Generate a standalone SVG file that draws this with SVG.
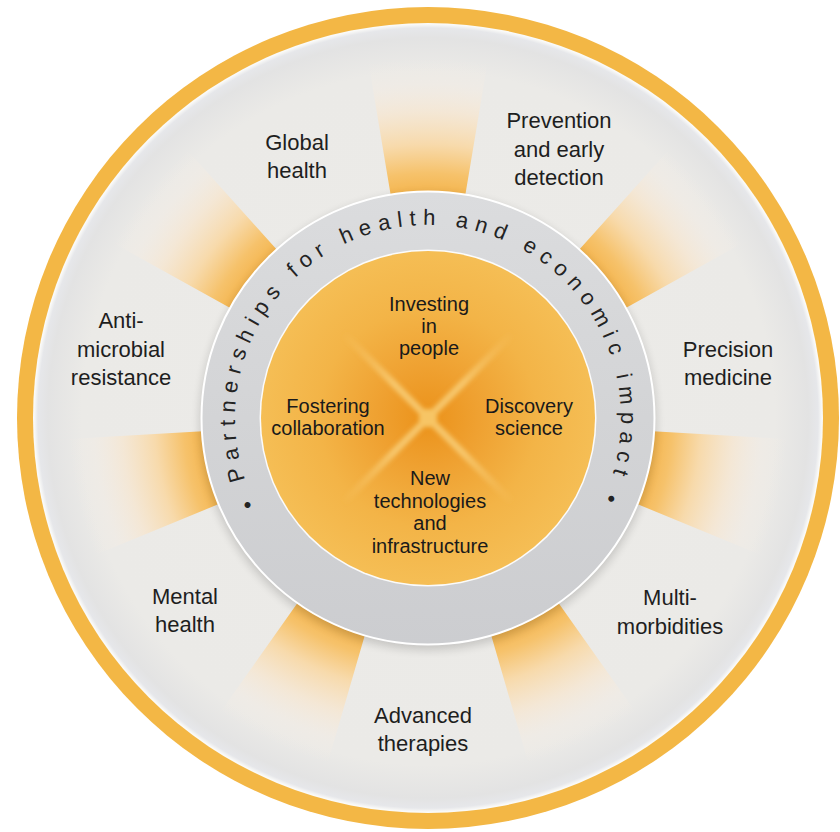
<svg xmlns="http://www.w3.org/2000/svg" width="840" height="832" viewBox="0 0 840 832">
  <defs>
    <style>
      .lbl { font-family: "Liberation Sans", Arial, Helvetica, sans-serif; font-size: 22px; fill: #1e1e1e; text-anchor: middle; }
      .inner { font-family: "Liberation Sans", Arial, Helvetica, sans-serif; font-size: 20px; fill: #1a1a1a; text-anchor: middle; }
      .ring { font-family: "Liberation Sans", Arial, Helvetica, sans-serif; font-size: 22px; fill: #232323; letter-spacing: 6.9px; }
    </style>
    <radialGradient id="bg" cx="428" cy="418" r="394" gradientUnits="userSpaceOnUse">
      <stop offset="0" stop-color="#ECEBE8"/>
      <stop offset="0.88" stop-color="#EBEAE7"/>
      <stop offset="0.965" stop-color="#E3E3E3"/>
      <stop offset="0.99" stop-color="#E6E7EA"/>
      <stop offset="1" stop-color="#FAFAF8"/>
    </radialGradient>
    <radialGradient id="wedge" cx="428" cy="418" r="360" gradientUnits="userSpaceOnUse">
      <stop offset="0.62" stop-color="#F4B44C"/>
      <stop offset="0.68" stop-color="#F6C26B"/>
      <stop offset="0.76" stop-color="#F8D9A8" stop-opacity="0.95"/>
      <stop offset="0.85" stop-color="#F7E6CF" stop-opacity="0.75"/>
      <stop offset="0.93" stop-color="#F6EDE3" stop-opacity="0.35"/>
      <stop offset="1" stop-color="#F6EEE4" stop-opacity="0"/>
    </radialGradient>
    <linearGradient id="grayRing" x1="0" y1="0" x2="0" y2="1">
      <stop offset="0" stop-color="#DBDCDE"/>
      <stop offset="0.5" stop-color="#D3D4D6"/>
      <stop offset="1" stop-color="#CCCDD0"/>
    </linearGradient>
    <radialGradient id="core" cx="428" cy="418" r="168" gradientUnits="userSpaceOnUse">
      <stop offset="0" stop-color="#EB921A"/>
      <stop offset="0.3" stop-color="#EFA131"/>
      <stop offset="0.65" stop-color="#F3B447"/>
      <stop offset="1" stop-color="#F5BE55"/>
    </radialGradient>
    <linearGradient id="xa" x1="343" y1="333" x2="513" y2="503" gradientUnits="userSpaceOnUse">
      <stop offset="0" stop-color="#F8CB72" stop-opacity="0"/>
      <stop offset="0.3" stop-color="#F8CB72" stop-opacity="0.9"/>
      <stop offset="0.7" stop-color="#F8CB72" stop-opacity="0.9"/>
      <stop offset="1" stop-color="#F8CB72" stop-opacity="0"/>
    </linearGradient>
    <linearGradient id="xb" x1="513" y1="333" x2="343" y2="503" gradientUnits="userSpaceOnUse">
      <stop offset="0" stop-color="#F8CB72" stop-opacity="0"/>
      <stop offset="0.3" stop-color="#F8CB72" stop-opacity="0.9"/>
      <stop offset="0.7" stop-color="#F8CB72" stop-opacity="0.9"/>
      <stop offset="1" stop-color="#F8CB72" stop-opacity="0"/>
    </linearGradient>
    <filter id="soft" x="-20%" y="-20%" width="140%" height="140%">
      <feGaussianBlur stdDeviation="2"/>
    </filter>
    <filter id="shadow" x="-20%" y="-20%" width="140%" height="140%">
      <feGaussianBlur stdDeviation="5"/>
    </filter>
    <path id="wedgeShape" d="M 394.99 220.74 L 368.58 62.94 A 360 360 0 0 1 487.42 62.94 L 461.01 220.74 A 200 200 0 0 0 394.99 220.74 Z"/>
    <path id="ringPath" d="M 260.9 514.5 A 193 193 0 1 1 595.1 514.5"/>
  </defs>

  <rect width="840" height="832" fill="#FFFFFF"/>

  <g id="outer-ring">
    <circle cx="428" cy="418" r="411" fill="#F3B745"/>
    <circle cx="428" cy="418" r="395" fill="url(#bg)"/>
  </g>

  <g id="wedges" fill="url(#wedge)">
    <use href="#wedgeShape"/>
    <use href="#wedgeShape" transform="rotate(51.4286 428 418)"/>
    <use href="#wedgeShape" transform="rotate(102.8571 428 418)"/>
    <use href="#wedgeShape" transform="rotate(154.2857 428 418)"/>
    <use href="#wedgeShape" transform="rotate(205.7143 428 418)"/>
    <use href="#wedgeShape" transform="rotate(257.1429 428 418)"/>
    <use href="#wedgeShape" transform="rotate(308.5714 428 418)"/>
  </g>

  <g id="partnerships-ring">
    <circle cx="428" cy="422" r="228" fill="#000" opacity="0.16" filter="url(#shadow)"/>
    <circle cx="428" cy="418" r="226.5" fill="url(#grayRing)" stroke="#FFFFFF" stroke-width="2"/>
    <text class="ring"><textPath href="#ringPath" startOffset="50%" text-anchor="middle">• Partnerships for health and economic impact •</textPath></text>
  </g>

  <g id="core-disc">
    <circle cx="428" cy="418" r="168.5" fill="#FFFFFF" opacity="0.9"/>
    <circle cx="428" cy="418" r="167" fill="url(#core)"/>
    <g filter="url(#soft)" stroke-linecap="round">
      <line x1="343" y1="333" x2="513" y2="503" stroke="url(#xa)" stroke-width="7"/>
      <line x1="513" y1="333" x2="343" y2="503" stroke="url(#xb)" stroke-width="7"/>
      <rect x="419" y="409" width="18" height="18" rx="6" fill="#F7C565"/>
    </g>
  </g>

  <g id="investing-in-people">
    <text class="inner" x="429" y="310.6">Investing</text>
    <text class="inner" x="429" y="333">in</text>
    <text class="inner" x="429" y="355.4">people</text>
  </g>
  <g id="fostering-collaboration">
    <text class="inner" x="328" y="412.8">Fostering</text>
    <text class="inner" x="328" y="435.2">collaboration</text>
  </g>
  <g id="discovery-science">
    <text class="inner" x="529" y="412.8">Discovery</text>
    <text class="inner" x="529" y="435.2">science</text>
  </g>
  <g id="new-technologies">
    <text class="inner" x="430" y="485.4">New</text>
    <text class="inner" x="430" y="507.8">technologies</text>
    <text class="inner" x="430" y="530.2">and</text>
    <text class="inner" x="430" y="552.6">infrastructure</text>
  </g>

  <g id="global-health">
    <text class="lbl" x="297" y="150">Global</text>
    <text class="lbl" x="297" y="178">health</text>
  </g>
  <g id="prevention">
    <text class="lbl" x="559" y="128">Prevention</text>
    <text class="lbl" x="559" y="157">and early</text>
    <text class="lbl" x="559" y="185">detection</text>
  </g>
  <g id="precision-medicine">
    <text class="lbl" x="728" y="357">Precision</text>
    <text class="lbl" x="728" y="385">medicine</text>
  </g>
  <g id="multi-morbidities">
    <text class="lbl" x="670" y="605">Multi-</text>
    <text class="lbl" x="670" y="634">morbidities</text>
  </g>
  <g id="advanced-therapies">
    <text class="lbl" x="423" y="723">Advanced</text>
    <text class="lbl" x="423" y="751">therapies</text>
  </g>
  <g id="mental-health">
    <text class="lbl" x="185" y="604">Mental</text>
    <text class="lbl" x="185" y="632">health</text>
  </g>
  <g id="anti-microbial-resistance">
    <text class="lbl" x="121" y="328">Anti-</text>
    <text class="lbl" x="121" y="357">microbial</text>
    <text class="lbl" x="121" y="385">resistance</text>
  </g>

  <g id="connectors"/>
</svg>
